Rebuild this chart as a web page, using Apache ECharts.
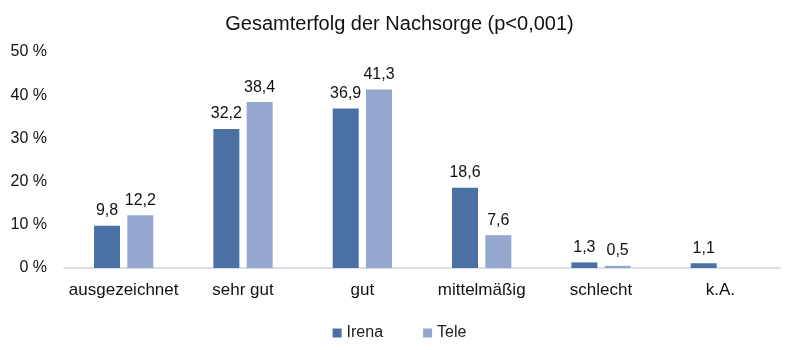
<!DOCTYPE html>
<html><head><meta charset="utf-8">
<script src="https://cdn.jsdelivr.net/npm/echarts@6/dist/echarts.min.js"></script>
<style>html,body{margin:0;padding:0;background:#fff}#c{width:799px;height:350px}</style>
</head><body><div id="c"></div>
<script>
const categories = ['ausgezeichnet','sehr gut','gut','mittelmäßig','schlecht','k.A.'];
const irena = [9.8, 32.2, 36.9, 18.6, 1.3, 1.1];
const tele = [12.2, 38.4, 41.3, 7.6, 0.5, null];
const yTicks = [0,10,20,30,40,50];
const fmt = v => String(v).replace('.', ',');
const chart = echarts.init(document.getElementById('c'));
const font = 'Liberation Sans, Arial, sans-serif';
chart.setOption({
  animation:false,
  title:{text:'Gesamterfolg der Nachsorge (p<0,001)', left:'center', top:9,
    textStyle:{fontFamily:font, fontSize:20, fontWeight:'normal', color:'#111'}},
  legend:{bottom:4, left:'center', itemWidth:9, itemHeight:9, itemGap:40,
    icon:'rect', textStyle:{fontFamily:font, fontSize:16, color:'#222'}},
  grid:{left:64, right:19, top:52, bottom:82},
  xAxis:{type:'category', data:categories,
    axisLine:{lineStyle:{color:'#d0d4dc', width:1.5}}, axisTick:{show:false},
    axisLabel:{interval:0, fontFamily:font, fontSize:17, color:'#111', margin:14}},
  yAxis:{type:'value', min:0, max:50, interval:10,
    axisLabel:{fontFamily:font, fontSize:16, color:'#111', margin:17,
      formatter:v=> yTicks.includes(v) ? v+' %' : ''},
    splitLine:{show:false}, axisLine:{show:false}, axisTick:{show:false}},
  series:[
    {name:'Irena', type:'bar', data:irena, barWidth:26, barGap:'28%',
     itemStyle:{color:'#4a70a4'},
     label:{show:true, position:'top', distance:7, fontFamily:font, fontSize:16, color:'#111', formatter:p=>fmt(p.value)}},
    {name:'Tele', type:'bar', data:tele, barWidth:26,
     itemStyle:{color:'#94a8cf'},
     label:{show:true, position:'top', distance:7, fontFamily:font, fontSize:16, color:'#111', formatter:p=>fmt(p.value)}}
  ]
});
</script></body></html>
